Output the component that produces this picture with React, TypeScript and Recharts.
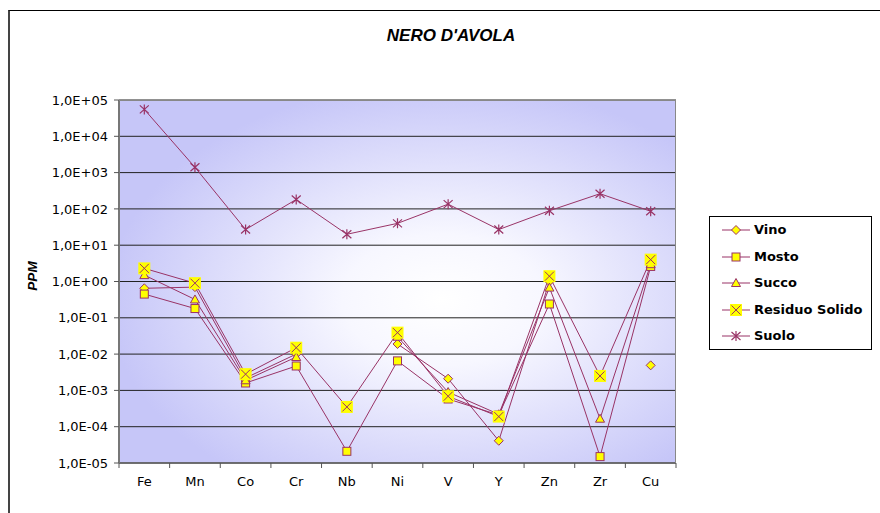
import React from 'react';
import { LineChart, Line, XAxis, YAxis, CartesianGrid } from 'recharts';

const categories = ['Fe', 'Mn', 'Co', 'Cr', 'Nb', 'Ni', 'V', 'Y', 'Zn', 'Zr', 'Cu'];
const vino = [0.65, 0.7, 2.2e-3, 1.0e-2, null, 1.9e-2, 2.1e-3, 4.1e-5, 1.0, null, 4.9e-3];
const mosto = [0.45, 0.18, 1.6e-3, 4.7e-3, 2.1e-5, 6.5e-3, 5.8e-4, 2.1e-4, 0.24, 1.5e-5, 2.6];
const succo = [1.5, 0.32, 1.9e-3, 8.3e-3, null, 3.0e-2, 9.0e-4, 2.2e-4, 0.68, 1.66e-4, 3.0];
const residuo = [2.3, 0.9, 2.8e-3, 1.5e-2, 3.5e-4, 3.9e-2, 6.9e-4, 1.9e-4, 1.4, 2.5e-3, 4.0];
const suolo = [5.5e4, 1.4e3, 27, 182, 20, 40, 135, 27, 89, 262, 86];
const yTicks = [1e-5, 1e-4, 1e-3, 1e-2, 1e-1, 1, 1e1, 1e2, 1e3, 1e4, 1e5];

const seriesNames = ['Vino', 'Mosto', 'Succo', 'Residuo Solido', 'Suolo'];
const seriesKeys = ['vino', 'mosto', 'succo', 'residuo', 'suolo'];
const seriesShapes = ['diamond', 'square', 'triangle', 'xbox', 'star'];

const data = categories.map((c, i) => ({
  name: c,
  vino: vino[i],
  mosto: mosto[i],
  succo: succo[i],
  residuo: residuo[i],
  suolo: suolo[i],
}));

const PLUM = '#993366';
const YEL = '#FFFF00';
const W = 880;
const H = 513;
const PLOT_LEFT = 119;
const PLOT_RIGHT = 676;
const PLOT_TOP = 100;
const PLOT_BOTTOM = 463;
const BAND = (PLOT_RIGHT - PLOT_LEFT) / categories.length;

function formatSci(v: number) {
  const e = Math.round(Math.log10(v));
  const sign = e < 0 ? '-' : '+';
  const a = Math.abs(e);
  return '1,0E' + sign + (a < 10 ? '0' + a : String(a));
}

function Marker({ kind, cx, cy }: { kind: string; cx: number; cy: number }) {
  switch (kind) {
    case 'diamond':
      return (
        <path
          d={`M${cx},${cy - 4.5}L${cx + 4.5},${cy}L${cx},${cy + 4.5}L${cx - 4.5},${cy}Z`}
          fill={YEL}
          stroke={PLUM}
          strokeWidth={1}
        />
      );
    case 'square':
      return <rect x={cx - 4} y={cy - 4} width={8} height={8} fill={YEL} stroke={PLUM} strokeWidth={1} />;
    case 'triangle':
      return (
        <path
          d={`M${cx},${cy - 4.5}L${cx + 4.5},${cy + 3.5}L${cx - 4.5},${cy + 3.5}Z`}
          fill={YEL}
          stroke={PLUM}
          strokeWidth={1}
        />
      );
    case 'xbox':
      return (
        <g>
          <rect x={cx - 6} y={cy - 6} width={12} height={12} fill={YEL} stroke="none" />
          <path
            d={`M${cx - 4.5},${cy - 4.5}L${cx + 4.5},${cy + 4.5}M${cx + 4.5},${cy - 4.5}L${cx - 4.5},${cy + 4.5}`}
            stroke={PLUM}
            strokeWidth={1}
          />
        </g>
      );
    case 'star':
    default:
      return (
        <path
          d={`M${cx - 4.5},${cy - 4}L${cx + 4.5},${cy + 4}M${cx + 4.5},${cy - 4}L${cx - 4.5},${cy + 4}M${cx},${cy - 5}L${cx},${cy + 5}`}
          stroke={PLUM}
          strokeWidth={1.2}
        />
      );
  }
}

function makeDot(kind: string) {
  return (props: any) => {
    const { cx, cy, value, index } = props;
    const key = `${kind}-${index}`;
    if (value == null || cx == null || cy == null || isNaN(cx) || isNaN(cy)) return <g key={key} />;
    return (
      <g key={key}>
        <Marker kind={kind} cx={cx} cy={cy} />
      </g>
    );
  };
}

const XTick = (props: any) => {
  const { x, payload, index } = props;
  const half = BAND / 2;
  return (
    <g>
      <line x1={x - half} y1={PLOT_BOTTOM} x2={x - half} y2={PLOT_BOTTOM + 5} stroke="#555" strokeWidth={1} />
      {index === categories.length - 1 && (
        <line x1={x + half} y1={PLOT_BOTTOM} x2={x + half} y2={PLOT_BOTTOM + 5} stroke="#555" strokeWidth={1} />
      )}
      <text x={x} y={PLOT_BOTTOM + 23} textAnchor="middle" fontSize={13} fontFamily="DejaVu Sans" fill="#000">
        {payload.value}
      </text>
    </g>
  );
};

const LegendBox = () => (
  <div
    style={{
      position: 'absolute',
      left: 709,
      top: 216,
      width: 161,
      height: 132,
      border: '1px solid #000',
      background: '#fff',
    }}
  >
    {seriesNames.map((n, i) => (
      <div
        key={n}
        style={{
          position: 'absolute',
          left: 11,
          top: 6 + i * 26.5,
          height: 14,
          display: 'flex',
          alignItems: 'center',
          whiteSpace: 'nowrap',
        }}
      >
        <svg width={30} height={14} style={{ display: 'block' }}>
          <line x1={1} y1={7} x2={29} y2={7} stroke={PLUM} strokeWidth={1} />
          <Marker kind={seriesShapes[i]} cx={15} cy={7} />
        </svg>
        <span
          style={{
            marginLeft: 3,
            fontFamily: 'DejaVu Sans',
            fontWeight: 'bold',
            fontSize: 13,
            color: '#000',
            lineHeight: '14px',
          }}
        >
          {n}
        </span>
      </div>
    ))}
  </div>
);

export default function App() {
  return (
    <div
      style={{
        position: 'absolute',
        left: 0,
        top: 0,
        width: W,
        height: H,
        background: '#fff',
        overflow: 'hidden',
      }}
    >
      <div
        style={{
          position: 'absolute',
          left: 8,
          top: 10,
          width: W,
          height: H,
          borderLeft: '2px solid #444',
          borderTop: '1px solid #000',
        }}
      />
      <div
        style={{
          position: 'absolute',
          left: 0,
          width: 902,
          top: 26,
          textAlign: 'center',
          fontFamily: 'Liberation Sans',
          fontWeight: 'bold',
          fontStyle: 'italic',
          fontSize: 17,
          color: '#000',
        }}
      >
        NERO D'AVOLA
      </div>
      <div
        style={{
          position: 'absolute',
          left: 32,
          top: 276,
          transform: 'translate(-50%, -50%) rotate(-90deg)',
          fontFamily: 'Liberation Sans',
          fontWeight: 'bold',
          fontStyle: 'italic',
          fontSize: 13.5,
          color: '#000',
          whiteSpace: 'nowrap',
        }}
      >
        PPM
      </div>
      <div style={{ position: 'absolute', left: 0, top: 0 }}>
        <LineChart width={W} height={H} data={data} margin={{ top: PLOT_TOP, right: W - PLOT_RIGHT, bottom: 0, left: 0 }}>
          <defs>
            <radialGradient id="plotBg" cx="0.58" cy="0.55" r="0.6">
              <stop offset="0" stopColor="#FFFFFF" />
              <stop offset="0.3" stopColor="#F7F7FF" />
              <stop offset="1" stopColor="#C6C6F8" />
            </radialGradient>
          </defs>
          <CartesianGrid vertical={false} stroke="#222" strokeWidth={1} fill="url(#plotBg)" fillOpacity={1} />
          <XAxis
            dataKey="name"
            scale="band"
            height={H - PLOT_BOTTOM}
            axisLine={{ stroke: '#666', strokeWidth: 1.5 }}
            tickLine={false}
            tick={<XTick />}
            interval={0}
          />
          <YAxis
            width={PLOT_LEFT}
            scale="log"
            type="number"
            domain={[1e-5, 1e5]}
            ticks={yTicks}
            allowDataOverflow
            interval={0}
            tickFormatter={formatSci}
            axisLine={{ stroke: '#777', strokeWidth: 2 }}
            tickLine={{ stroke: '#555' }}
            tickSize={5}
            tickMargin={6}
            tick={{ fontSize: 13, fontFamily: 'DejaVu Sans', fill: '#000' }}
          />
          {seriesKeys.map((k, i) => (
            <Line
              key={k}
              dataKey={k}
              name={seriesNames[i]}
              stroke={PLUM}
              strokeWidth={1}
              dot={makeDot(seriesShapes[i])}
              activeDot={false}
              isAnimationActive={false}
              connectNulls={false}
            />
          ))}
        </LineChart>
      </div>
      <div
        style={{
          position: 'absolute',
          left: PLOT_LEFT,
          top: PLOT_TOP,
          width: PLOT_RIGHT - PLOT_LEFT,
          height: PLOT_BOTTOM - PLOT_TOP,
          borderTop: '1px solid #888',
          borderRight: '1px solid #888',
          boxSizing: 'border-box',
          pointerEvents: 'none',
        }}
      />
      <LegendBox />
    </div>
  );
}
